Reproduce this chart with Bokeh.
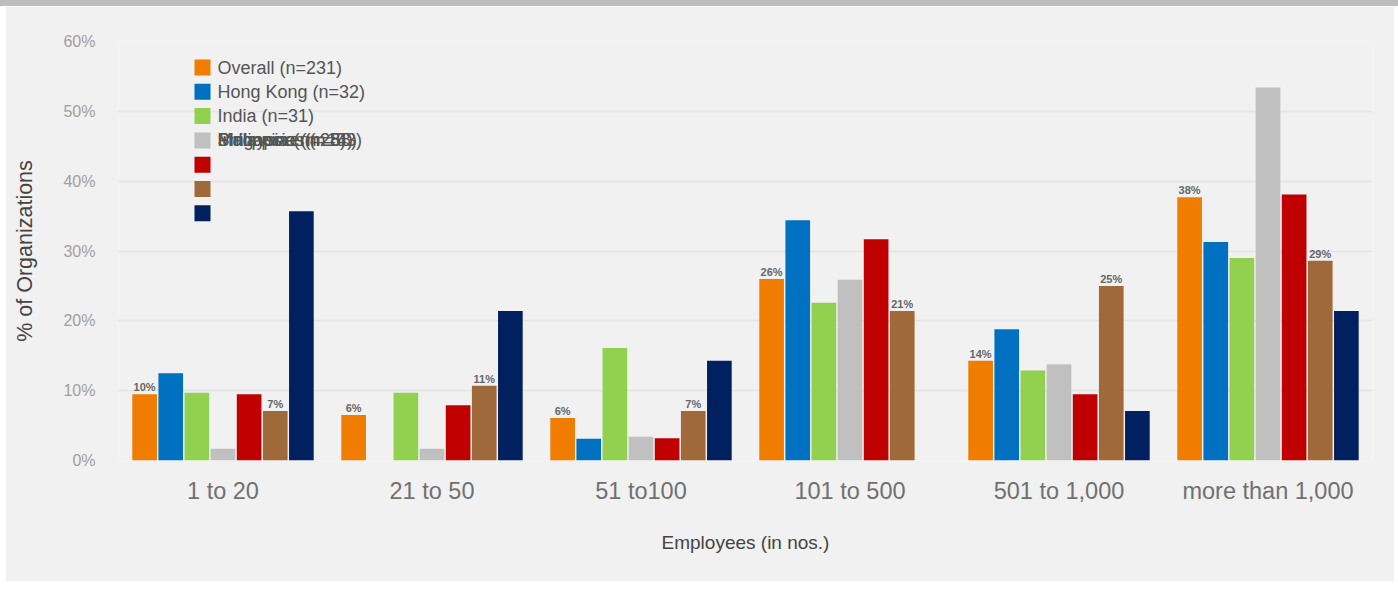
from bokeh.plotting import figure
from bokeh.models import (Range1d, FixedTicker, PrintfTickFormatter,
                          ColumnDataSource, Div)
from bokeh.transform import dodge
from bokeh.layouts import column
from bokeh.core.properties import value
from bokeh.embed import file_html
from bokeh.resources import INLINE

# ---------------- data ----------------
categories = ["1 to 20", "21 to 50", "51 to100", "101 to 500", "501 to 1,000", "more than 1,000"]
overall = [9.5, 6.5, 6.1, 26.0, 14.3, 37.7]
hong_kong = [12.5, 0.0, 3.1, 34.4, 18.8, 31.3]
india = [9.7, 9.7, 16.1, 22.6, 12.9, 29.0]
series_gray = [1.7, 1.7, 3.4, 25.9, 13.8, 53.4]
series_red = [9.5, 7.9, 3.2, 31.7, 9.5, 38.1]
series_brown = [7.1, 10.7, 7.1, 21.4, 25.0, 28.6]
series_navy = [35.7, 21.4, 14.3, 0.0, 7.1, 21.4]
series_names = ["Overall (n=231)", "Hong Kong (n=32)", "India (n=31)",
                "Singapore (n=58)", "Philippines (n=63)", "Malaysia (n=28)", "Indonesia (n=14)"]
series_colors = ["#F07C00", "#0070C0", "#92D050", "#C0C0C0", "#C00000", "#A0693A", "#002060"]
y_ticks = [0, 10, 20, 30, 40, 50, 60]

series_values = [overall, hong_kong, india, series_gray, series_red, series_brown, series_navy]
keys = ["s%d" % i for i in range(len(series_values))]

cat_pos = [i + 0.5 for i in range(len(categories))]
data = {"cat": categories, "xc": cat_pos}
for k, vals in zip(keys, series_values):
    data[k] = vals
data["overall_lbl"] = ["%d%%" % round(v) for v in overall]
data["brown_lbl"] = ["%d%%" % round(v) for v in series_brown]
source = ColumnDataSource(data)

FONT = "Liberation Sans"
FRAME_W, FRAME_H = 1254, 419

p = figure(
    x_range=Range1d(0, len(categories)),
    y_range=Range1d(0, 60),
    width=1389, height=575,
    min_border_left=113, min_border_right=22, min_border_top=35, min_border_bottom=121,
    output_backend="svg", toolbar_location=None,
)
p.margin = (0, 4, 9, 5)
p.background_fill_color = "#f1f1f1"
p.border_fill_color = "#f1f1f1"
p.outline_line_color = None

# bars
n = len(series_values)
slot = 0.125
for i, (k, c) in enumerate(zip(keys, series_colors)):
    off = (i - (n - 1) / 2) * slot
    p.vbar(x=dodge("xc", off), top=k, width=0.118, source=source,
           fill_color=c, line_color=None)

# value labels on Overall and brown series
label_style = dict(text_font=value(FONT), text_font_size="11px", text_font_style="bold",
                   text_color="#666666", text_align="center", text_baseline="bottom", y_offset=-1)
p.text(x=dodge("xc", (0 - 3) * slot), y="s0", text="overall_lbl", source=source, **label_style)
p.text(x=dodge("xc", (5 - 3) * slot), y="s5", text="brown_lbl", source=source, **label_style)

# axes
p.xgrid.grid_line_color = None
p.ygrid.grid_line_color = "#e4e4e4"
p.ygrid.grid_line_width = 1.5
p.yaxis.ticker = FixedTicker(ticks=y_ticks)
p.yaxis.formatter = PrintfTickFormatter(format="%d%%")
p.xaxis.ticker = FixedTicker(ticks=cat_pos)
p.xaxis.major_label_overrides = {pos: name for pos, name in zip(cat_pos, categories)}
for ax in (p.xaxis[0], p.yaxis[0]):
    ax.axis_line_color = None
    ax.major_tick_line_color = None
    ax.minor_tick_line_color = None
    ax.major_tick_out = 0
    ax.major_tick_in = 0
    ax.axis_label_text_font = FONT
    ax.axis_label_text_font_style = "normal"
    ax.axis_label_text_color = "#444444"
    ax.major_label_text_font = FONT

p.yaxis.major_label_text_font_size = "16px"
p.yaxis.major_label_text_color = "#a0a0a0"
p.yaxis.major_label_standoff = 23
p.yaxis.axis_label = "% of Organizations"
p.yaxis.axis_label_text_font_size = "21.5px"
p.yaxis.axis_label_standoff = 23

p.xaxis.major_label_text_font_size = "23.5px"
p.xaxis.major_label_text_color = "#707070"
p.xaxis.major_label_standoff = 17
p.xaxis.axis_label = "Employees (in nos.)"
p.xaxis.axis_label_text_font_size = "19px"
p.xaxis.axis_label_standoff = 25

# legend drawn in frame pixel coordinates (y measured from frame top)
p.extra_x_ranges = {"px": Range1d(0, FRAME_W)}
p.extra_y_ranges = {"py": Range1d(FRAME_H, 0)}
leg_x = 84
leg_top = 26
leg_step = 24.3
sw_y = [leg_top + i * leg_step for i in range(n)]
p.scatter(x=[leg_x] * n, y=sw_y, marker="square", size=16, fill_color=series_colors,
          line_color=None, x_range_name="px", y_range_name="py")
# Reference draws the labels of items 4..7 on top of each other in row 4
lbl_rows = [min(i, 3) for i in range(n)]
p.text(x=[leg_x + 15] * n, y=[sw_y[r] for r in lbl_rows], text=series_names,
       text_font=value(FONT), text_font_size="18px", text_color="#555555",
       text_align="left", text_baseline="middle", x_range_name="px", y_range_name="py")

top_bar = Div(text="", width=1398, height=6, margin=(0, 0, 0, 0),
              styles={"background-color": "#bdbdbd"})
layout = column(top_bar, p, spacing=0, margin=(0, 0, 0, 0))

open("out.html", "w").write(file_html(layout, INLINE))
